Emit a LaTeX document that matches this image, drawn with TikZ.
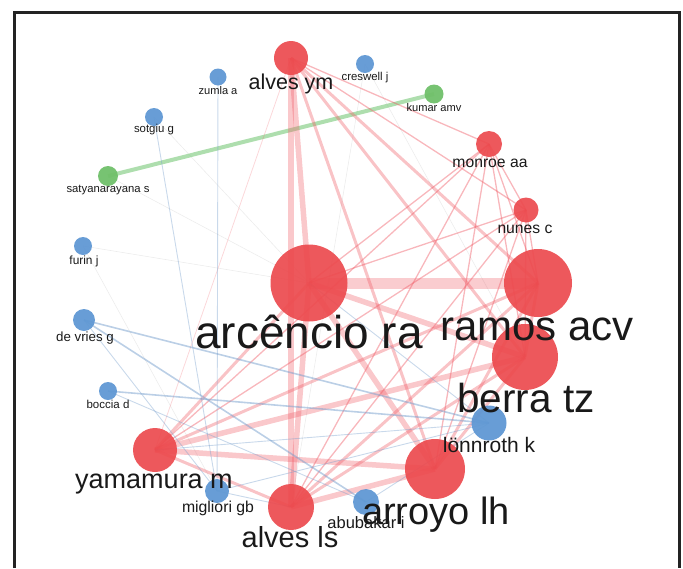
\documentclass[tikz,border=0pt]{standalone}
\usepackage{fontspec}
\setmainfont{Liberation Sans}
\usetikzlibrary{backgrounds}
\definecolor{nred}{RGB}{236,74,78}
\definecolor{nblue}{RGB}{96,152,212}
\definecolor{ngreen}{RGB}{112,192,106}
\definecolor{ered}{RGB}{240,96,106}
\definecolor{eblue}{RGB}{120,160,205}
\definecolor{egreen}{RGB}{120,200,120}
\definecolor{labcol}{RGB}{25,25,25}
\definecolor{framecol}{RGB}{35,35,35}
\newcommand{\fsz}[1]{\fontsize{#1}{#1}\selectfont}
\begin{document}
\begin{tikzpicture}[x=1pt,y=-1pt,
  rnode/.style={circle,inner sep=0pt,fill=nred,fill opacity=0.92,minimum size=#1},
  bnode/.style={circle,inner sep=0pt,fill=nblue,fill opacity=0.95,minimum size=#1},
  gnode/.style={circle,inner sep=0pt,fill=ngreen,fill opacity=0.95,minimum size=#1},
  lab/.style={anchor=base,inner sep=0pt,text=labcol,font=\fsz{#1}},
  reA/.style={draw=ered,line width=11pt,draw opacity=0.32},
  reB/.style={draw=ered,line width=5.5pt,draw opacity=0.35},
  reC/.style={draw=ered,line width=3pt,draw opacity=0.38},
  reD/.style={draw=ered,line width=1.3pt,draw opacity=0.45},
  reE/.style={draw=ered,line width=0.8pt,draw opacity=0.25},
  beA/.style={draw=eblue,line width=1.6pt,draw opacity=0.5},
  beB/.style={draw=eblue,line width=0.9pt,draw opacity=0.4},
  faint/.style={draw=gray,line width=0.6pt,draw opacity=0.15},
  geA/.style={draw=egreen,line width=4pt,draw opacity=0.6}]
\useasboundingbox (0,0) rectangle (683,568);
\draw[framecol,line width=3pt] (14.5,568) -- (14.5,12.5) -- (679,12.5) -- (679,568);
% nodes
\node[rnode=34] (aym) at (291,58) {};
\node[rnode=26] (mon) at (489,144) {};
\node[rnode=25] (nun) at (526,210) {};
\node[rnode=77] (arc) at (309,283) {};
\node[rnode=68] (ram) at (538,283) {};
\node[rnode=66] (ber) at (525,357) {};
\node[rnode=60] (arr) at (435,469) {};
\node[rnode=46] (als) at (291,507) {};
\node[rnode=44] (yam) at (155,450) {};
\node[bnode=18] (cre) at (365,64) {};
\node[bnode=17] (zum) at (218,77) {};
\node[bnode=18] (sot) at (154,117) {};
\node[bnode=18] (fur) at (83,246) {};
\node[bnode=22] (dev) at (84,320) {};
\node[bnode=18] (boc) at (108,391) {};
\node[bnode=24] (mig) at (217,491) {};
\node[bnode=26] (abu) at (366,502) {};
\node[bnode=35] (lon) at (489,423) {};
\node[gnode=20] (sat) at (108,176) {};
\node[gnode=19] (kum) at (434,94) {};
% edges
\begin{scope}[on background layer]
\draw[faint] (fur.center) -- (arc.center);
\draw[faint] (sot.center) -- (arc.center);
\draw[faint] (sat.center) -- (arc.center);
\draw[faint] (cre.center) -- (ber.center);
\draw[faint] (fur.center) -- (mig.center);
\draw[faint] (cre.center) -- (als.center);
\draw[geA] (sat.center) -- (kum.center);
\draw[reA] (arc.center) -- (ram.center);
\draw[reB] (arc.center) -- (ber.center);
\draw[reB] (arc.center) -- (arr.center);
\draw[reB] (arc.center) -- (als.center);
\draw[reB] (arc.center) -- (aym.center);
\draw[reC] (arc.center) -- (yam.center);
\draw[reD] (arc.center) -- (mon.center);
\draw[reD] (arc.center) -- (nun.center);
\draw[reC] (ram.center) -- (ber.center);
\draw[reC] (ram.center) -- (arr.center);
\draw[reC] (ram.center) -- (als.center);
\draw[reC] (ram.center) -- (yam.center);
\draw[reC] (ram.center) -- (aym.center);
\draw[reD] (ram.center) -- (mon.center);
\draw[reD] (ram.center) -- (nun.center);
\draw[reC] (ber.center) -- (arr.center);
\draw[reC] (ber.center) -- (als.center);
\draw[reB] (ber.center) -- (yam.center);
\draw[reC] (ber.center) -- (aym.center);
\draw[reD] (ber.center) -- (mon.center);
\draw[reD] (ber.center) -- (nun.center);
\draw[reB] (arr.center) -- (als.center);
\draw[reB] (arr.center) -- (yam.center);
\draw[reC] (arr.center) -- (aym.center);
\draw[reD] (arr.center) -- (mon.center);
\draw[reD] (arr.center) -- (nun.center);
\draw[reC] (als.center) -- (yam.center);
\draw[reB] (als.center) -- (aym.center);
\draw[reD] (als.center) -- (mon.center);
\draw[reD] (als.center) -- (nun.center);
\draw[reE] (yam.center) -- (aym.center);
\draw[reD] (yam.center) -- (mon.center);
\draw[reD] (yam.center) -- (nun.center);
\draw[reD] (aym.center) -- (mon.center);
\draw[reD] (aym.center) -- (nun.center);
\draw[reD] (mon.center) -- (nun.center);
\draw[beA] (dev.center) -- (lon.center);
\draw[beA] (dev.center) -- (abu.center);
\draw[beB] (dev.center) -- (mig.center);
\draw[beA] (boc.center) -- (lon.center);
\draw[beB] (boc.center) -- (abu.center);
\draw[beB] (sot.center) -- (mig.center);
\draw[beB] (zum.center) -- (mig.center);
\draw[beB] (mig.center) -- (lon.center);
\draw[beB] (abu.center) -- (lon.center);
\draw[beB] (yam.center) -- (lon.center);
\draw[beB] (lon.center) -- (arc.center);
\draw[beB] (mig.center) -- (als.center);
\end{scope}
% labels
\node[lab=21.5] (laym) at (291,89) {alves ym};
\node[lab=11.4] (lcre) at (365,80) {creswell j};
\node[lab=11.1] (lzum) at (218,94) {zumla a};
\node[lab=11.4] (lsot) at (154,132) {sotgiu g};
\node[lab=11.1] (lkum) at (434,111) {kumar amv};
\node[lab=15.7] (lmon) at (490,167) {monroe aa};
\node[lab=11.3] (lsat) at (108,192) {satyanarayana s};
\node[lab=15.7] (lnun) at (525,233) {nunes c};
\node[lab=11.9] (lfur) at (84,264) {furin j};
\node[lab=46] (larc) at (309,348) {arcêncio ra};
\node[lab=42] (lram) at (537,340) {ramos acv};
\node[lab=13.3] (ldev) at (85,341) {de vries g};
\node[lab=11.5] (lboc) at (108,408) {boccia d};
\node[lab=40.5] (lber) at (526,412) {berra tz};
\node[lab=21] (llon) at (489,452) {lönnroth k};
\node[lab=27] (lyam) at (154,488) {yamamura m};
\node[lab=15.8] (lmig) at (218,512) {migliori gb};
\node[lab=16.5] (labu) at (366,528) {abubakar i};
\node[lab=38] (larr) at (436,524) {arroyo lh};
\node[lab=29] (lals) at (290,547) {alves ls};
\end{tikzpicture}
\end{document}
